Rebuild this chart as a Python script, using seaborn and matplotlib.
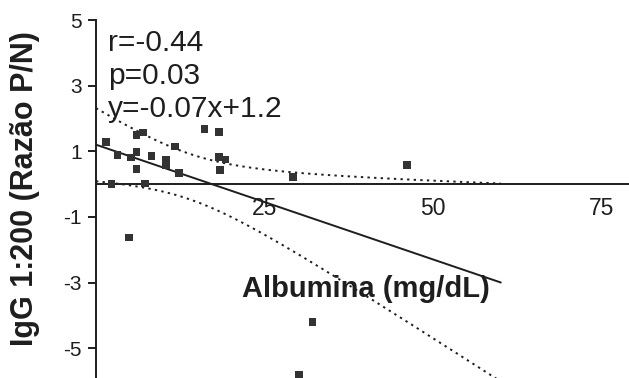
import numpy as np
import pandas as pd
import matplotlib
matplotlib.use("Agg")
import matplotlib.pyplot as plt
import seaborn as sns

# Albumin vs IgG 1:200 P/N ratio
albumina = [1.5, 3.2, 2.3, 6.0, 7.0, 5.2, 6.0, 6.0, 7.3, 8.2, 10.4, 10.4,
            11.7, 12.3, 16.1, 18.2, 18.2, 19.2, 18.4, 29.2, 46.1, 4.9, 32.1, 30.1]
igg = [1.29, 0.88, 0.0, 1.49, 1.57, 0.81, 0.98, 0.45, 0.02, 0.86, 0.75, 0.58,
       1.14, 0.33, 1.67, 1.59, 0.83, 0.75, 0.43, 0.22, 0.58, -1.63, -4.2, -5.8]

r_value = -0.44
p_value = 0.03
slope = -0.07
intercept = 1.2

x_ticks = [25, 50, 75]
y_ticks = [5, 3, 1, -1, -3, -5]

sns.set_theme(style="white")
plt.rcParams["font.family"] = ["Liberation Sans", "DejaVu Sans"]

ink = "#1e1e1e"

df = pd.DataFrame({"albumina": albumina, "igg": igg})

# fitted line and 95% confidence band of the mean response
x = np.asarray(albumina)
y = np.asarray(igg)
n = len(x)
resid = y - (slope * x + intercept)
s = np.sqrt(np.sum(resid ** 2) / (n - 2))
sxx = np.sum((x - x.mean()) ** 2)
t_crit = 2.074
grid = np.linspace(0, 60, 200)
fit = slope * grid + intercept
half = t_crit * s * np.sqrt(1 / n + (grid - x.mean()) ** 2 / sxx)
band = pd.DataFrame({"x": grid, "fit": fit, "lo": fit - half, "hi": fit + half})

fig = plt.figure(figsize=(6.29, 3.78), dpi=100)
ax = fig.add_axes([96 / 629, 0.0, 1 - 96 / 629, 358 / 378])

sns.lineplot(data=band, x="x", y="fit", ax=ax, color=ink, lw=1.4)
sns.lineplot(data=band, x="x", y="hi", ax=ax, color=ink, lw=1.4, linestyle=(0, (1.2, 2.2)))
sns.lineplot(data=band, x="x", y="lo", ax=ax, color=ink, lw=1.4, linestyle=(0, (1.2, 2.2)))
sns.scatterplot(data=df, x="albumina", y="igg", ax=ax, marker="s", s=30,
                color="#333333", edgecolor="none", zorder=3)

ax.set_xlim(0, 79)
ax.set_ylim(-5.91, 5)

# x axis runs through y = 0
ax.spines["bottom"].set_position(("data", 0))
ax.spines["top"].set_visible(False)
ax.spines["right"].set_visible(False)
for sp in ("bottom", "left"):
    ax.spines[sp].set_color(ink)
    ax.spines[sp].set_linewidth(1.4)
ax.spines["left"].set_bounds(-5.91, 5)

ax.set_xticks(x_ticks)
ax.set_xticklabels([str(v) for v in x_ticks])
ax.set_yticks(y_ticks)
ax.set_yticklabels([str(v) for v in y_ticks])
ax.tick_params(axis="x", direction="in", length=6, width=1.4, color=ink,
               labelsize=16.5, labelcolor=ink, pad=9)
ax.tick_params(axis="y", direction="out", length=6, width=1.4, color=ink,
               labelsize=15, labelcolor=ink, pad=4, left=True)

ax.set_xlabel("")
ax.set_ylabel("IgG 1:200 (Razão P/N)", fontsize=22, fontweight="bold",
              color=ink)
ax.yaxis.set_label_coords(-0.105, 0.53)

ax.text(40, -3.2, "Albumina (mg/dL)", fontsize=21, fontweight="bold",
        color=ink, ha="center", va="center")

stats = [f"r={r_value}", f"p={p_value}", f"y={slope}x+{intercept}"]
for i, line in enumerate(stats):
    ax.text(1.8, 4.3 - i * 1.0, line, fontsize=21.5, color=ink,
            ha="left", va="center")

fig.savefig("out.png", dpi=100, facecolor="white")
